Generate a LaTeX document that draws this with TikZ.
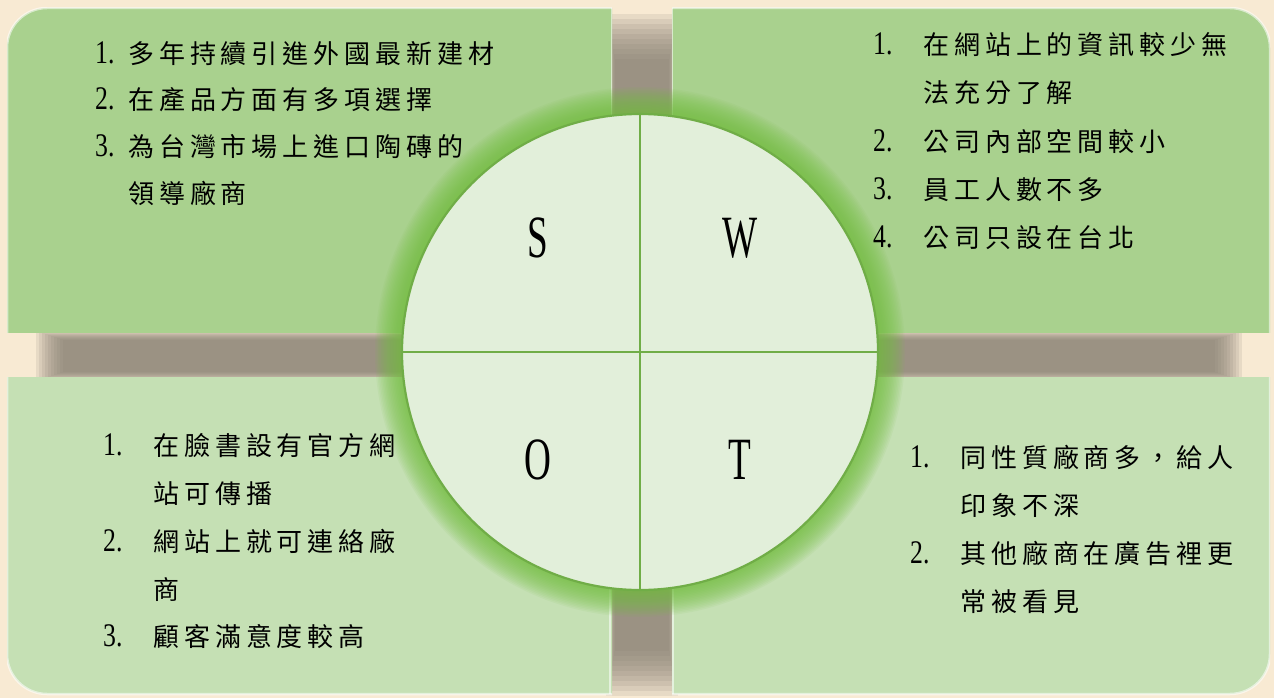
\documentclass[tikz,border=0pt]{standalone}
\usepackage{fontspec}
\setmainfont{Liberation Serif}
\newfontfamily\cjk[LetterSpace=19]{Noto Sans CJK TC}
\definecolor{bg}{HTML}{F8EAD3}
\definecolor{topg}{HTML}{A9D18E}
\definecolor{botg}{HTML}{C5E0B4}
\definecolor{circf}{HTML}{E2EFDA}
\definecolor{circd}{HTML}{70AD47}
\definecolor{glowc}{HTML}{74C040}
\definecolor{shad}{HTML}{857D70}
\newcommand\swline[6]{\node[txt] (#1) at (#2,#3) {\makebox[#4pt][l]{\fontsize{33}{33}\selectfont\scalebox{0.78}[1]{#5}}{\cjk #6}};}
\begin{document}
\begin{tikzpicture}[x=1pt,y=-1pt,
  txt/.style={anchor=base west, inner sep=0pt, font=\fontsize{26}{30}\selectfont},
  letter/.style={inner sep=0pt, font=\fontsize{60}{60}\selectfont},
  bevel/.style={draw=white, line width=2.5pt, draw opacity=0.55}]
\fill[bg] (0,0) rectangle (1274,698);
\useasboundingbox (0,0) rectangle (1274,698);
% shadows
\foreach \k in {0,...,9}{
  \fill[shad, opacity=0.14] (36+\k*3,331+\k) rectangle (1242-\k*3,381-\k);
  \fill[shad, opacity=0.14] (606+\k,14+\k*5) rectangle (678-\k,696-\k*5);
}
% boxes
\begin{scope}
  \clip (7,8) rectangle (612,332);
  \fill[topg, rounded corners=40pt] (7,8) rectangle (720,420);
  \draw[bevel, rounded corners=40pt] (7,8) rectangle (720,420);
  \draw[bevel] (612,8) -- (612,332);
\end{scope}
\begin{scope}
  \clip (672,8) rectangle (1270,332);
  \fill[topg, rounded corners=40pt] (560,8) rectangle (1270,420);
  \draw[bevel, rounded corners=40pt] (560,8) rectangle (1270,420);
  \draw[bevel] (672,8) -- (672,332);
\end{scope}
\begin{scope}
  \clip (7,377) rectangle (612,698);
  \fill[botg, rounded corners=40pt] (7,290) rectangle (720,694);
  \draw[bevel, rounded corners=40pt] (7,290) rectangle (720,694);
  \draw[bevel] (610,377) -- (610,694);
\end{scope}
\begin{scope}
  \clip (672,377) rectangle (1270,698);
  \fill[botg, rounded corners=40pt] (560,290) rectangle (1270,694);
  \draw[bevel, rounded corners=40pt] (560,290) rectangle (1270,694);
  \draw[bevel] (673,377) -- (673,694);
\end{scope}
% glow
\foreach \i in {1,...,18}{
  \fill[glowc, opacity=0.075] (640,352) circle ({238pt+1.5pt*\i});
}
% circle
\node[circle, minimum size=476pt, inner sep=0pt, fill=circf, draw=circd, line width=2.2pt] (c) at (640,352) {};
\draw[circd, line width=2.6pt] (c.west) -- (c.east);
\draw[circd, line width=2.6pt] (c.north) -- (c.south);
\node[letter] (s) at (538,238) {\scalebox{0.62}[1]{S}};
\node[letter] (w) at (740,238) {\scalebox{0.62}[1]{W}};
\node[letter] (o) at (538,460) {\scalebox{0.62}[1]{O}};
\node[letter] (t) at (740,460) {\scalebox{0.62}[1]{T}};
% S text
\swline{s1}{95}{64}{33}{1.}{多年持續引進外國最新建材}
\swline{s2}{95}{110}{33}{2.}{在產品方面有多項選擇}
\swline{s3}{95}{157}{33}{3.}{為台灣市場上進口陶磚的}
\swline{s4}{95}{203}{33}{}{領導廠商}
% W text
\swline{w1}{873}{55}{50}{1.}{在網站上的資訊較少無}
\swline{w2}{873}{103}{50}{}{法充分了解}
\swline{w3}{873}{151}{50}{2.}{公司內部空間較小}
\swline{w4}{873}{199}{50}{3.}{員工人數不多}
\swline{w5}{873}{247}{50}{4.}{公司只設在台北}
% O text
\swline{o1}{103}{455}{50}{1.}{在臉書設有官方網}
\swline{o2}{103}{503}{50}{}{站可傳播}
\swline{o3}{103}{551}{50}{2.}{網站上就可連絡廠}
\swline{o4}{103}{599}{50}{}{商}
\swline{o5}{103}{646}{50}{3.}{顧客滿意度較高}
% T text
\swline{t1}{910}{467}{50}{1.}{同性質廠商多，給人}
\swline{t2}{910}{515}{50}{}{印象不深}
\swline{t3}{910}{563}{50}{2.}{其他廠商在廣告裡更}
\swline{t4}{910}{611}{50}{}{常被看見}
\end{tikzpicture}
\end{document}
